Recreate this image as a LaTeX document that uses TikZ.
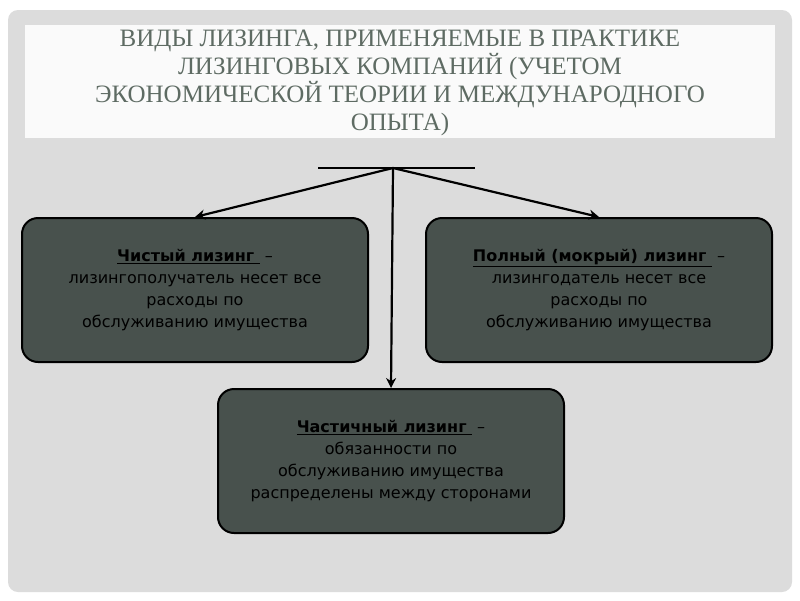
\documentclass[tikz,border=0pt]{standalone}
\usepackage{fontspec}
\setmainfont{Liberation Serif}
\newfontfamily\bodyf{DejaVu Sans}
\usetikzlibrary{arrows.meta}
\definecolor{titlec}{HTML}{5E6B63}
\definecolor{boxc}{HTML}{48514D}
\definecolor{panel}{HTML}{DCDCDC}
\tikzset{
  card/.style={draw=black, line width=2pt, fill=boxc, rounded corners=16pt, minimum width=346pt, minimum height=144pt, align=center, font=\bodyf\fontsize{16}{22}\selectfont, text=black},
  conn/.style={line width=2.2pt, -{Stealth[length=10pt,width=10pt]}}
}
\begin{document}
\begin{tikzpicture}[x=1pt,y=-1pt]
\useasboundingbox (0,0) rectangle (800,600);
\fill[white] (0,0) rectangle (800,600);
\fill[panel, rounded corners=10pt] (8,10) rectangle (792,592);
\fill[white!96!gray] (25,25) rectangle (775,138);
\node[text=titlec, align=center, font=\fontsize{25}{28}\selectfont] (title) at (400,83) {ВИДЫ ЛИЗИНГА, ПРИМЕНЯЕМЫЕ В ПРАКТИКЕ\\ЛИЗИНГОВЫХ КОМПАНИЙ (УЧЕТОМ\\ЭКОНОМИЧЕСКОЙ ТЕОРИИ И МЕЖДУНАРОДНОГО\\ОПЫТА)};
\coordinate (hl) at (318,168);
\coordinate (hr) at (475,168);
\coordinate (hub) at (393,168);
\draw[line width=2.2pt] (hl) -- (hr);
\node[card] (left) at (195,290) {\textbf{\underline{Чистый лизинг }} –\\лизингополучатель несет все\\расходы по\\обслуживанию имущества};
\node[card] (right) at (599,290) {\textbf{\underline{Полный (мокрый) лизинг }} –\\лизингодатель несет все\\расходы по\\обслуживанию имущества};
\node[card] (bottom) at (391,461) {\textbf{\underline{Частичный лизинг }} –\\обязанности по\\обслуживанию имущества\\распределены между сторонами};
\draw[conn] (hub) -- (left.north);
\draw[conn] (hub) -- (right.north);
\draw[conn] (hub) -- (bottom.north);
\end{tikzpicture}
\end{document}
